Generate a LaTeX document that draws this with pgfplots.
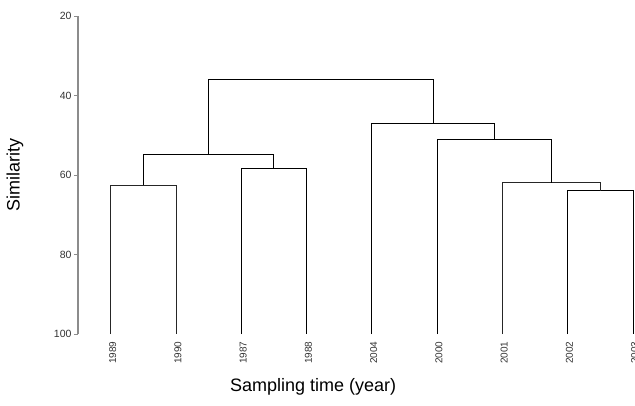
\documentclass[border=0pt]{standalone}
\usepackage{pgfplots}
\pgfplotsset{compat=1.18}
\usepackage{fontspec}
\setmainfont{Liberation Sans}
\begin{document}
\begin{tikzpicture}
\begin{axis}[
  scale only axis,
  width=554.7pt, height=318pt,
  xmin=-0.5, xmax=8,
  ymin=20, ymax=100,
  y dir=reverse,
  axis x line*=bottom,
  axis y line*=left,
  x axis line style={draw=none},
  y axis line style={draw=black!45, line width=1.1pt, -},
  xtick={0,1,2,3,4,5,6,7,8},
  xticklabels={1989,1990,1987,1988,2004,2000,2001,2002,2003},
  xtick style={draw=none},
  ytick={20,40,60,80,100},
  ytick style={draw=black!45, line width=1pt},
  tick align=outside,
  major tick length=4pt,
  xticklabel style={rotate=90, anchor=east, font=\fontsize{10}{12}\selectfont, text=black!80, yshift=-2pt},
  yticklabel style={font=\fontsize{10.5}{12}\selectfont, text=black!80, xshift=1pt},
  /pgf/number format/assume math mode=true,
  xlabel={Sampling time (year)},
  ylabel={Similarity},
  xlabel style={at={(axis description cs:0.4237,-0.1667)}, anchor=center, font=\fontsize{18}{20}\selectfont},
  ylabel style={at={(axis description cs:-0.1136,0.5)}, anchor=center, rotate=0, font=\fontsize{18}{20}\selectfont},
  clip=false,
  cycle list={{black!85, solid, line width=0.8pt, mark=none}},
]
% A: 1989-1990
\addplot coordinates {(0,100) (0,62.5) (1,62.5) (1,100)};
% B: 1987-1988
\addplot coordinates {(2,100) (2,58.2) (3,58.2) (3,100)};
% C: A-B
\addplot coordinates {(0.5,62.5) (0.5,54.8) (2.5,54.8) (2.5,58.2)};
% D: 2002-2003
\addplot coordinates {(7,100) (7,63.9) (8,63.9) (8,100)};
% E: 2001-D
\addplot coordinates {(6,100) (6,61.9) (7.5,61.9) (7.5,63.9)};
% F: 2000-E
\addplot coordinates {(5,100) (5,51.0) (6.75,51.0) (6.75,61.9)};
% G: 2004-F
\addplot coordinates {(4,100) (4,47.0) (5.875,47.0) (5.875,51.0)};
% Root
\addplot coordinates {(1.5,54.8) (1.5,35.8) (4.9375,35.8) (4.9375,47.0)};
\end{axis}
\pgfresetboundingbox
\path[use as bounding box] (-78pt,-71pt) rectangle (557pt,334pt);
\end{tikzpicture}
\end{document}
